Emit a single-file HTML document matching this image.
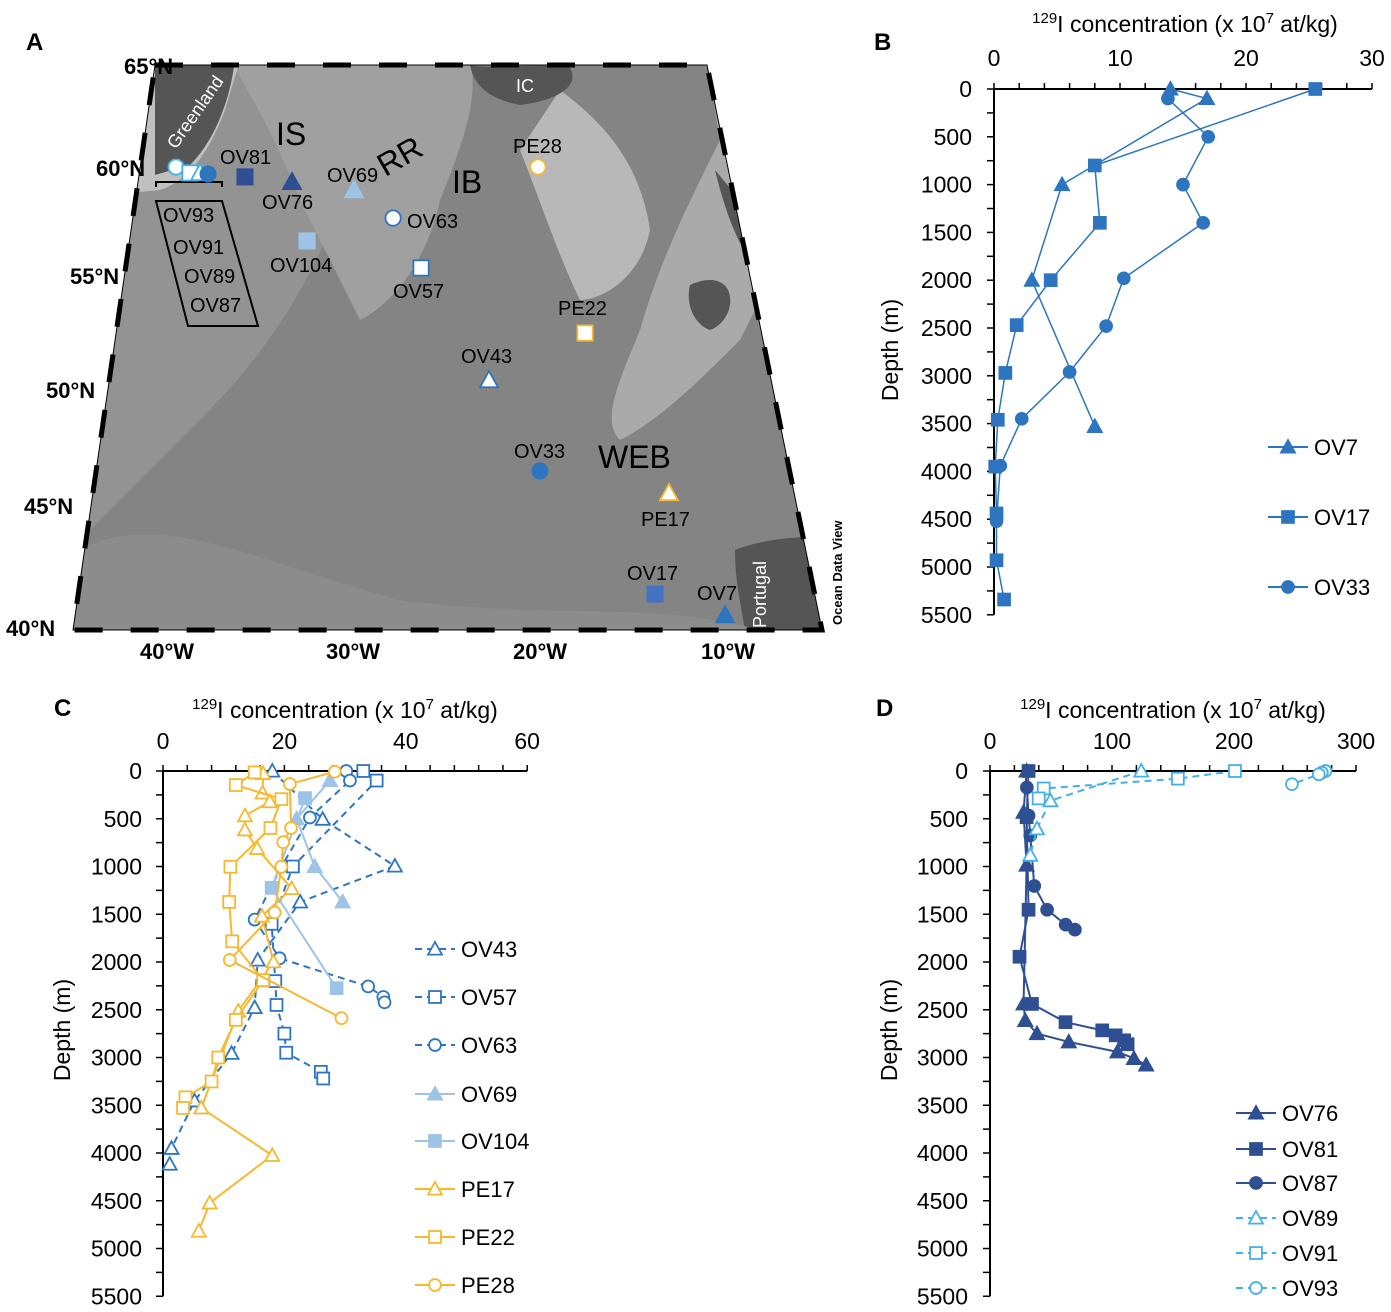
<!DOCTYPE html>
<html><head><meta charset="utf-8"><style>
body{margin:0;background:#fff}
svg{display:block;font-family:"Liberation Sans",Arial,sans-serif}
</style></head><body>
<svg id="fig" width="1391" height="1312" viewBox="0 0 1391 1312">
<defs>
<clipPath id="mapclip"><polygon points="155,65 707,65 822,630 73,630"/></clipPath>
</defs>
<g>
<text x="26" y="50" font-size="24" font-weight="bold">A</text>
<g clip-path="url(#mapclip)">
<rect x="60" y="60" width="780" height="580" fill="#848484"/>
<path d="M60,60 L420,60 C400,120 360,170 330,230 C300,300 260,360 200,420 C150,470 100,520 60,560 Z" fill="#939393"/>
<path d="M230,60 C260,110 280,150 300,200 C320,240 340,280 360,320 C400,300 430,250 440,200 C460,150 480,100 470,60 Z" fill="#a0a0a0"/>
<path d="M470,60 L707,60 L720,140 C690,200 660,260 640,330 C620,380 600,420 620,440 C660,420 700,380 740,340 L760,300 L707,65 Z" fill="#aaaaaa"/>
<path d="M560,90 C600,120 640,160 650,230 C640,280 600,300 580,300 C560,260 540,200 520,150 Z" fill="#b8b8b8"/>
<path d="M60,60 L240,60 L225,110 C210,150 190,180 160,190 L60,200 Z" fill="#c0c0c0"/>
<path d="M155,60 L235,60 C230,100 215,140 190,165 L155,175 Z" fill="#555"/>
<path d="M470,65 C490,70 540,62 570,68 C580,85 560,100 520,105 C495,100 475,90 470,65 Z" fill="#555"/>
<path d="M690,285 C700,280 720,275 728,290 C735,305 725,325 710,330 C695,325 685,305 690,285 Z" fill="#555"/>
<path d="M735,550 C760,540 800,535 822,538 L822,630 L745,630 C740,600 735,580 735,550 Z" fill="#555"/>
<path d="M715,170 C720,190 730,230 750,260 L760,300 L740,200 Z" fill="#555"/>
<path d="M60,560 C150,500 250,560 400,600 C550,620 650,600 760,630 L60,640 Z" fill="#8c8c8c"/>
</g>
<polygon points="155,65 707,65 822,630 73,630" fill="none" stroke="#000" stroke-width="5" stroke-dasharray="28,28"/>
<polygon points="155,65 707,65 822,630 73,630" fill="none" stroke="#000" stroke-width="1"/>
<g font-size="22" font-weight="bold">
<text x="124" y="74">65°N</text><text x="96" y="176">60°N</text><text x="70" y="284">55°N</text>
<text x="46" y="398">50°N</text><text x="24" y="514">45°N</text><text x="6" y="636">40°N</text>
</g>
<g font-size="22" font-weight="bold" text-anchor="middle">
<text x="167" y="659">40°W</text><text x="353" y="659">30°W</text><text x="540" y="659">20°W</text><text x="728" y="659">10°W</text>
</g>
<text x="842" y="625" font-size="13" font-weight="bold" transform="rotate(-90 842 625)">Ocean Data View</text>
<g fill="#fff" font-size="18">
<text x="176" y="150" transform="rotate(-55 176 150)">Greenland</text>
<text x="516" y="92">IC</text>
<text x="766" y="628" transform="rotate(-90 766 628)">Portugal</text>
</g>
<g font-size="32">
<text x="276" y="145">IS</text><text x="378" y="170" transform="rotate(-30 395 160)">RR</text>
<text x="452" y="193">IB</text><text x="598" y="468">WEB</text>
</g>
<polyline points="156,187 156,182 222,182 222,187" fill="none" stroke="#000" stroke-width="2"/>
<polygon points="156,201 222,201 258,326 188,326" fill="none" stroke="#000" stroke-width="2"/>
<g id="mapmarks"></g>
<g font-size="20">
<text x="220" y="164">OV81</text><text x="262" y="209">OV76</text><text x="327" y="182">OV69</text>
<text x="407" y="228">OV63</text><text x="270" y="272">OV104</text><text x="393" y="298">OV57</text>
<text x="513" y="153">PE28</text><text x="558" y="315">PE22</text><text x="461" y="363">OV43</text>
<text x="514" y="458">OV33</text><text x="641" y="526">PE17</text><text x="627" y="580">OV17</text>
<text x="697" y="600">OV7</text>
<text x="163" y="222">OV93</text><text x="173" y="254">OV91</text><text x="184" y="283">OV89</text><text x="190" y="312">OV87</text>
</g>
</g>
<text x="1185" y="32" font-size="23" text-anchor="middle"><tspan font-size="15" dy="-9">129</tspan><tspan dy="9">I concentration (x 10</tspan><tspan font-size="15" dy="-9">7</tspan><tspan dy="9"> at/kg)</tspan></text>
<text x="345" y="718" font-size="23" text-anchor="middle"><tspan font-size="15" dy="-9">129</tspan><tspan dy="9">I concentration (x 10</tspan><tspan font-size="15" dy="-9">7</tspan><tspan dy="9"> at/kg)</tspan></text>
<text x="1173" y="718" font-size="23" text-anchor="middle"><tspan font-size="15" dy="-9">129</tspan><tspan dy="9">I concentration (x 10</tspan><tspan font-size="15" dy="-9">7</tspan><tspan dy="9"> at/kg)</tspan></text>
<g id="panels"></g>
</svg>
<script>
// ---------- Panel B data ----------
var bDepthTicks=[0,500,1000,1500,2000,2500,3000,3500,4000,4500,5000,5500];
var bConcTicks=[0,10,20,30];
var bOV7x=[14,16.9,5.4,3,8];
var bOV7y=[0,100,1000,2000,3530];
var bOV17x=[25.5,8,8.4,4.5,1.8,0.9,0.3,0.1,0.2,0.2,0.8];
var bOV17y=[0,800,1400,2000,2470,2970,3460,3950,4440,4930,5340];
var bOV33x=[13.8,17,15,16.6,10.3,8.9,6,2.2,0.5,0.2];
var bOV33y=[100,500,1000,1400,1980,2480,2960,3450,3940,4520];
// ---------- Panel C data ----------
var cDepthTicks=[0,500,1000,1500,2000,2500,3000,3500,4000,4500,5000,5500];
var cConcTicks=[0,20,40,60];
var cOV43x=[18,26.3,38.2,22.6,15.6,15.1,11.3,5.2,1.4,1.1];
var cOV43y=[0,505,995,1371,1979,2477,2956,3454,3951,4117];
var cOV57x=[33,35.2,21.4,17.9,18.5,18.7,20,20.3,26,26.4];
var cOV57y=[0,100,1000,1600,2200,2450,2750,2950,3150,3220];
var cOV63x=[30.2,30.8,24.2,19.5,15.1,19.2,33.8,36.3,36.5];
var cOV63y=[0,100,487,1003,1556,1961,2256,2366,2422];
var cOV69x=[27.5,22,25,29.6];
var cOV69y=[100,500,1000,1370];
var cOV104x=[23.4,17.9,28.6];
var cOV104y=[284,1224,2274];
var cPE17x=[16.5,16.4,17.6,13.5,13.5,15.5,21.2,16.3,18.2,12.4,6.3,18,7.7,5.9];
var cPE17y=[26,229,321,468,616,811,1231,1519,1998,2514,3528,4025,4523,4818];
var cPE22x=[15.1,12,19.5,17.7,11.1,10.9,11.4,16.5,12,9.1,8,3.7,3.3];
var cPE22y=[15,147,295,597,1003,1371,1784,2190,2606,3000,3251,3417,3528];
var cPE28x=[28.3,20.9,21.1,19.8,19.5,18.4,11,29.4];
var cPE28y=[7,136,597,745,1003,1482,1979,2588];
// ---------- Panel D data ----------
var dDepthTicks=[0,500,1000,1500,2000,2500,3000,3500,4000,4500,5000,5500];
var dConcTicks=[0,100,200,300];
var dOV76x=[30,27.5,30,27.5,28.9,38.5,64.6,104.5,118,128];
var dOV76y=[0,432,986,2439,2612,2750,2837,2941,3010,3079];
var dOV81x=[31.6,30,31.6,24.2,34.4,61.9,92,103,110,112.8];
var dOV81y=[0,484,1453,1945,2439,2630,2716,2768,2820,2861];
var dOV87x=[30.2,31.6,33,36.3,46.8,62,69.6];
var dOV87y=[173,467,675,1204,1453,1609,1661];
var dOV89x=[124,49.5,38.5,33];
var dOV89y=[0,311,605,882];
var dOV91x=[200.8,154,44,39.9];
var dOV91y=[0,80,183,287];
var dOV93x=[275,272,269.5,247.5];
var dOV93y=[0,17,35,138];
// ---------- Map stations ----------
var stationNames=['OV93','OV91','OV89','OV87','OV81','OV76','OV69','OV63','OV104','OV57','PE28','PE22','OV43','OV33','PE17','OV17','OV7'];
var stationLon=[-42.56,-41.56,-40.88,-40.33,-37.81,-34.61,-30.42,-27.8,-33.42,-26.02,-17.92,-15.94,-22.05,-19.4,-12.14,-13.67,-10.05];
var stationLat=[60.0,59.73,59.73,59.68,59.55,59.32,58.95,57.68,56.64,55.41,60.0,52.52,50.44,46.51,45.56,41.45,40.6];

var NS='http://www.w3.org/2000/svg';
var MID='#2e75c0',DARK='#2f4f93',LIGHT='#9dc3e6',ORG='#f5b82e',SKY='#45b0e8';
function mk(tag,attrs,parent){var e=document.createElementNS(NS,tag);for(var k in attrs)e.setAttribute(k,attrs[k]);parent.appendChild(e);return e;}
function marker(g,shape,cx,cy,color,filled,s){
  var e;var f=filled?color:'#fff';
  if(shape==='tri'){e=mk('polygon',{points:cx+','+(cy-s)+' '+(cx-s)+','+(cy+s*0.8)+' '+(cx+s)+','+(cy+s*0.8),fill:f,stroke:color,'stroke-width':1.8},g);}
  else if(shape==='sq'){e=mk('rect',{x:cx-s*0.85,y:cy-s*0.85,width:s*1.7,height:s*1.7,fill:f,stroke:color,'stroke-width':1.8},g);}
  else {e=mk('circle',{cx:cx,cy:cy,r:s*0.85,fill:f,stroke:color,'stroke-width':1.8},g);}
  return e;
}
var root=document.getElementById('panels');
function panel(cfg){
  var g=mk('g',{},root);
  
  
  var sx=function(v){return cfg.x0+v*cfg.kx;}, sy=function(d){return cfg.y0+d*cfg.ky;};
  var lt=mk('text',{x:cfg.lx,y:cfg.ly,'font-size':24,'font-weight':'bold'},g);lt.textContent=cfg.letter;
  
  
  var yl=mk('text',{x:cfg.ylx,y:cfg.yly,'font-size':23,'text-anchor':'middle',transform:'rotate(-90 '+cfg.ylx+' '+cfg.yly+')'},g);yl.textContent='Depth (m)';
  
  
  var xmax=cfg.concTicks[cfg.concTicks.length-1], dmax=cfg.depthTicks[cfg.depthTicks.length-1];
  var ax=mk('line',{x1:sx(0),y1:sy(0),x2:sx(xmax),y2:sy(0),stroke:'#000','stroke-width':2},g);
  
  
  var ay=mk('line',{x1:sx(0),y1:sy(0),x2:sx(0),y2:sy(dmax),stroke:'#000','stroke-width':2},g);
  
  
  for(var v=0;v<=xmax+1e-9;v+=cfg.minorX){mk('line',{x1:sx(v),y1:sy(0)-6,x2:sx(v),y2:sy(0),stroke:'#000','stroke-width':1.5},g);}
  for(var d=0;d<=dmax;d+=250){mk('line',{x1:sx(0)-7,y1:sy(d),x2:sx(0),y2:sy(d),stroke:'#000','stroke-width':1.5},g);}
  cfg.concTicks.forEach(function(v){var t=mk('text',{x:sx(v),y:cfg.xty,'font-size':23,'text-anchor':'middle'},g);t.textContent=v;
    
    });
  cfg.depthTicks.forEach(function(d){var t=mk('text',{x:cfg.ytx,y:sy(d)+8,'font-size':23,'text-anchor':'end'},g);t.textContent=d;
    
    });
  cfg.series.forEach(function(s,i){
    var sg=mk('g',{},g);
    
    
    var pts=s.x.map(function(v,j){return sx(v)+','+sy(s.y[j]);}).join(' ');
    var pl=mk('polyline',{points:pts,fill:'none',stroke:s.color,'stroke-width':s.w||2,'stroke-dasharray':s.dash?'7,5':'none'},sg);
    
    
    s.x.forEach(function(v,j){var m=marker(sg,s.shape,sx(v),sy(s.y[j]),s.color,s.filled,cfg.ms);
      
      });
    var ly=cfg.legY[i];
    var lg=mk('g',{},g);
    
    
    mk('line',{x1:cfg.legX,y1:ly,x2:cfg.legX+40,y2:ly,stroke:s.color,'stroke-width':2,'stroke-dasharray':s.dash?'7,5':'none'},lg);
    marker(lg,s.shape,cfg.legX+20,ly,s.color,s.filled,cfg.ms);
    var lt2=mk('text',{x:cfg.legX+46,y:ly+8,'font-size':22},lg);lt2.textContent=s.label;
  });
}
panel({name:'panel-b-chart',letter:'B',lx:874,ly:50,x0:994,kx:12.6,y0:89,ky:0.0956,ylx:898,yly:350,xty:66,ytx:972,minorX:2,ms:7,
  concTicks:bConcTicks,depthTicks:bDepthTicks,legX:1268,legY:[447,517,587],
  series:[{label:'OV7',x:bOV7x,y:bOV7y,color:MID,shape:'tri',filled:true,w:1.5},
          {label:'OV17',x:bOV17x,y:bOV17y,color:MID,shape:'sq',filled:true,w:1.5},
          {label:'OV33',x:bOV33x,y:bOV33y,color:MID,shape:'circ',filled:true,w:1.5}]});
panel({name:'panel-c-chart',letter:'C',lx:54,ly:716,x0:163,kx:6.07,y0:771,ky:0.0955,ylx:70,yly:1030,xty:749,ytx:142,minorX:4,ms:7,
  concTicks:cConcTicks,depthTicks:cDepthTicks,legX:415,legY:[949,997,1045,1094,1141,1189,1237,1285],
  series:[{label:'OV43',x:cOV43x,y:cOV43y,color:MID,shape:'tri',dash:true},
          {label:'OV57',x:cOV57x,y:cOV57y,color:MID,shape:'sq',dash:true},
          {label:'OV63',x:cOV63x,y:cOV63y,color:MID,shape:'circ',dash:true},
          {label:'OV69',x:cOV69x,y:cOV69y,color:LIGHT,shape:'tri',filled:true},
          {label:'OV104',x:cOV104x,y:cOV104y,color:LIGHT,shape:'sq',filled:true},
          {label:'PE17',x:cPE17x,y:cPE17y,color:ORG,shape:'tri'},
          {label:'PE22',x:cPE22x,y:cPE22y,color:ORG,shape:'sq'},
          {label:'PE28',x:cPE28x,y:cPE28y,color:ORG,shape:'circ'}]});
panel({name:'panel-d-chart',letter:'D',lx:876,ly:716,x0:990,kx:1.22,y0:771,ky:0.0955,ylx:897,yly:1030,xty:749,ytx:968,minorX:20,ms:7,
  concTicks:dConcTicks,depthTicks:dDepthTicks,legX:1236,legY:[1113,1149,1183,1218,1253,1288],
  series:[{label:'OV76',x:dOV76x,y:dOV76y,color:DARK,shape:'tri',filled:true},
          {label:'OV81',x:dOV81x,y:dOV81y,color:DARK,shape:'sq',filled:true},
          {label:'OV87',x:dOV87x,y:dOV87y,color:DARK,shape:'circ',filled:true},
          {label:'OV89',x:dOV89x,y:dOV89y,color:SKY,shape:'tri',dash:true},
          {label:'OV91',x:dOV91x,y:dOV91y,color:SKY,shape:'sq',dash:true},
          {label:'OV93',x:dOV93x,y:dOV93y,color:SKY,shape:'circ',dash:true}]});
// map station markers
var stationShape=['circ','sq','tri','circ','sq','tri','tri','circ','sq','sq','circ','sq','tri','circ','tri','sq','tri'];
var stationColor=[SKY,SKY,SKY,MID,DARK,DARK,LIGHT,MID,LIGHT,MID,ORG,ORG,MID,MID,ORG,'#4472c4',MID];
var stationFilled=[false,false,false,true,true,true,true,false,true,false,false,false,false,true,false,true,true];
var latKnots=[40,45,50,55,60,65], yKnots=[630,506,390,277,167,65];
function mapY(lat){
  var i=0;
  while(i < latKnots.length-2 && lat > latKnots[i+1]) i++;
  var f=(lat-latKnots[i])/(latKnots[i+1]-latKnots[i]);
  return yKnots[i]+f*(yKnots[i+1]-yKnots[i]);
}
function mapX(lon,lat){var y=mapY(lat);var t=(y-65)/565;var l=155-82*t,r=707+115*t;return l+(lon+45)/40*(r-l);}
var mg=document.getElementById('mapmarks');
stationNames.forEach(function(n,i){
  var cx=mapX(stationLon[i],stationLat[i]),cy=mapY(stationLat[i]);
  var m=marker(mg,stationShape[i],cx,cy,stationColor[i],stationFilled[i],9);
  
  
});
</script>
</body></html>
